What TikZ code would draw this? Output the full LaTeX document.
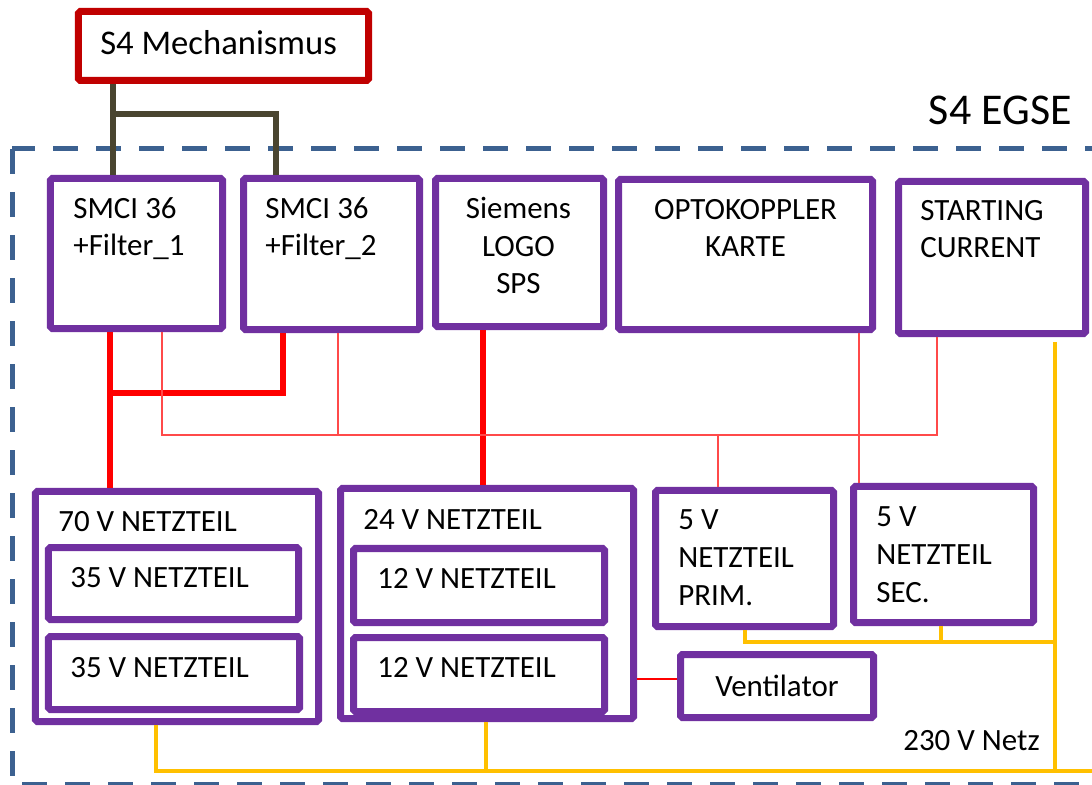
\documentclass[tikz,border=0pt]{standalone}
\usepackage{fontspec}
\setmainfont{Carlito}

\definecolor{boxlila}{HTML}{7030A0}
\definecolor{mechrot}{HTML}{C00000}
\definecolor{netzgelb}{HTML}{FFC000}
\definecolor{egseblau}{HTML}{3C6190}
\definecolor{mechbraun}{HTML}{4A4530}
\definecolor{sigrot}{HTML}{FF4A4A}

\begin{document}
\begin{tikzpicture}[
    x=0.2mm, y=-0.2mm,
    unit/.style={draw=boxlila, line width=1.4mm, rounded corners=1pt, fill=white, inner sep=0pt},
    mechbox/.style={unit, draw=mechrot},
    lbl/.style={inner sep=0pt, align=left, font=\fontsize{17.6}{21.6}\selectfont},
    egse/.style={draw=egseblau, line width=1mm, dash pattern=on 5mm off 3.6mm},
    mech/.style={draw=mechbraun, line width=1.2mm},
    pwr/.style={draw=red, line width=1.2mm},
    sig/.style={draw=sigrot, line width=0.3mm},
    fan/.style={draw=red, line width=0.4mm},
    netz/.style={draw=netzgelb, line width=0.8mm}
]
\useasboundingbox (0,0) rectangle (1092,785);
\clip (0,0) rectangle (1092,785);

% EGSE Rahmen
\draw[egse] (12,149) rectangle (1130,784);
\node[lbl, anchor=base east, font=\fontsize{25}{29}\selectfont] (egsetxt) at (1072,125) {S4 EGSE};

% Mechanismus
\node[mechbox, minimum width=58mm, minimum height=13.8mm] (mech) at (223.5,46) {};
\node[lbl, anchor=base west, font=\fontsize{19.7}{24}\selectfont] (mechtxt) at (100,55) {S4 Mechanismus};

% obere Reihe (Anker = Grundlinie der letzten Zeile)
\node[unit, minimum width=34.4mm, minimum height=30mm] (smci1) at (136.5,253.5) {};
\node[lbl, anchor=base west] (smci1txt) at (73,256) {SMCI 36\\+Filter\_1};

\node[unit, minimum width=35.2mm, minimum height=30.2mm] (smci2) at (331.5,254) {};
\node[lbl, anchor=base west] (smci2txt) at (265,256) {SMCI 36\\+Filter\_2};

\node[unit, minimum width=33.6mm, minimum height=29.6mm] (sps) at (519.5,252.5) {};
\node[lbl, align=center, anchor=base] (spstxt) at (518.5,294) {Siemens\\LOGO\\SPS};

\node[unit, minimum width=50.8mm, minimum height=30mm] (opto) at (745.5,254.5) {};
\node[lbl, align=center, anchor=base] (optotxt) at (745.5,257) {OPTOKOPPLER\\KARTE};

\node[unit, minimum width=37.4mm, minimum height=30.4mm] (start) at (992,257.5) {};
\node[lbl, anchor=base west] (starttxt) at (920,258) {STARTING\\CURRENT};

% untere Reihe
\node[unit, minimum width=56.6mm, minimum height=46mm] (n70) at (177,606.5) {};
\node[lbl, anchor=base west] (n70txt) at (58,532) {70 V NETZTEIL};
\node[unit, minimum width=50mm, minimum height=14.4mm] (n35a) at (173.5,583.5) {};
\node[lbl, anchor=base west] (n35atxt) at (70,587) {35 V NETZTEIL};
\node[unit, minimum width=50.2mm, minimum height=14.6mm] (n35b) at (174,673) {};
\node[lbl, anchor=base west] (n35btxt) at (70,677) {35 V NETZTEIL};

\node[unit, minimum width=58.6mm, minimum height=46mm] (n24) at (487,603.5) {};
\node[lbl, anchor=base west] (n24txt) at (363,530) {24 V NETZTEIL};
\node[unit, minimum width=50.2mm, minimum height=14.8mm] (n12a) at (479,585.5) {};
\node[lbl, anchor=base west] (n12atxt) at (377,588) {12 V NETZTEIL};
\node[unit, minimum width=50.2mm, minimum height=14.8mm] (n12b) at (479,674.5) {};
\node[lbl, anchor=base west] (n12btxt) at (377,677) {12 V NETZTEIL};

\node[unit, minimum width=35.6mm, minimum height=27.2mm] (n5p) at (744.5,558.5) {};
\node[lbl, anchor=base west] (n5ptxt) at (678,605) {5 V\\NETZTEIL\\PRIM.};
\node[unit, minimum width=36mm, minimum height=27.2mm] (n5s) at (943.5,554.5) {};
\node[lbl, anchor=base west] (n5stxt) at (876,602) {5 V\\NETZTEIL\\SEC.};

\node[unit, minimum width=38.6mm, minimum height=12.6mm] (vent) at (777,686) {};
\node[lbl] (venttxt) at (777,686) {Ventilator};

\node[lbl, anchor=base west] (netztxt) at (903,750) {230 V Netz};

% Knickpunkte
\coordinate (mL) at (113,114);
\coordinate (mR) at (276,114);
\coordinate (pL) at (110,393);
\coordinate (pR) at (283,393);
\coordinate (pS) at (483,400);
\coordinate (sL) at (162,435);
\coordinate (sM) at (338,435);
\coordinate (sP) at (718,435);
\coordinate (sR) at (937,435);
\coordinate (sO) at (859,435);
\coordinate (fanY) at (660,679);
\coordinate (gTop) at (1055,342);
\coordinate (gMid) at (1055,642);
\coordinate (gP) at (745,642);
\coordinate (gS) at (941,642);
\coordinate (gL) at (156,771);
\coordinate (gM) at (486,771);
\coordinate (gV) at (1055,771);
\coordinate (gEnd) at (1130,771);

% Mechanik
\draw[mech] (mech.south -| mL) -- (smci1.north -| mL);
\draw[mech] (mL) -- (mR) -- (smci2.north -| mR);

% Leistung
\draw[pwr] (smci1.south -| pL) -- (n70.north -| pL);
\draw[pwr] (pL) -- (pR) -- (smci2.south -| pR);
\draw[pwr] (sps.south -| pS) -- (n24.north -| pS);
\draw[fan] (n24.east |- fanY) -- (vent.west |- fanY);

% Signale
\draw[sig] (smci1.south -| sL) -- (sL) -- (sR) -- (start.south -| sR);
\draw[sig] (smci2.south -| sM) -- (sM);
\draw[sig] (sP) -- (n5p.north -| sP);
\draw[sig] (opto.south -| sO) -- (n5s.north -| sO);

% 230 V Netz
\draw[netz] (n70.south -| gL) -- (gL) -- (gEnd);
\draw[netz] (n24.south -| gM) -- (gM);
\draw[netz] (gTop) -- (gV);
\draw[netz] (n5p.south -| gP) -- (gP) -- (gMid);
\draw[netz] (n5s.south -| gS) -- (gS);

\end{tikzpicture}
\end{document}
